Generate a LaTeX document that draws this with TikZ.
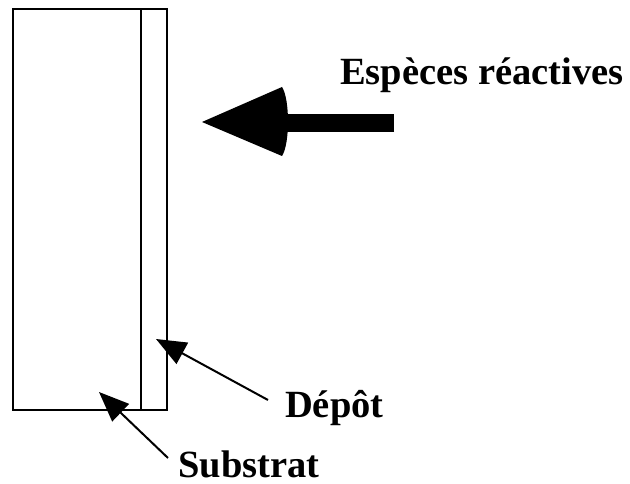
\documentclass[tikz,border=0pt]{standalone}
\usepackage{fontspec}
\setmainfont{Liberation Serif}
\usetikzlibrary{arrows.meta}
\usetikzlibrary{positioning}
\tikzset{layer/.style = {draw, line width = 2pt, inner sep = 0, outer sep = 0, anchor = north west}}
\tikzset{lbl/.style = {font = \fontsize{38.5}{44}\selectfont\bfseries, inner sep = 0, text depth = 0pt, anchor = base west}}
\tikzset{pointer/.style = {line width = 2pt, -{Triangle[length = 30pt, width = 24pt]}}}

\begin{document}
\begin{tikzpicture}[x=1pt, y=-1pt]
          \useasboundingbox (0, 0) rectangle (630, 484);
          \node [layer, minimum width = 128pt, minimum height = 401pt] (substrat) at (13, 9) {};
          \node [layer, minimum width = 26pt, minimum height = 401pt] (depot) at (substrat.north east) {};

          \node [lbl] (especes) at (340, 85) {Espèces réactives};
          \node [lbl] (ldepot) at (285, 417) {Dépôt};
          \node [lbl] (lsubstrat) at (178, 477) {Substrat};

          \coordinate (tipdepot) at (156, 339);
          \coordinate (tipsubstrat) at (99, 392);
          \coordinate (fluxstart) at (394, 123);
          \coordinate (fluxtip) at (202, 122);

          \draw [pointer] (ldepot.base west) ++(-17, -17) -- (tipdepot);
          \draw [pointer] (lsubstrat.base west) ++(-10, -19) -- (tipsubstrat);

          \draw [line width = 18pt] (fluxstart) -- ++(-120, 0);
          \fill (fluxtip) -- ++(80, -35) .. controls ++(8, 12) and ++(8, -12) .. ++(0, 69) -- cycle;
        \end{tikzpicture}
\end{document}
